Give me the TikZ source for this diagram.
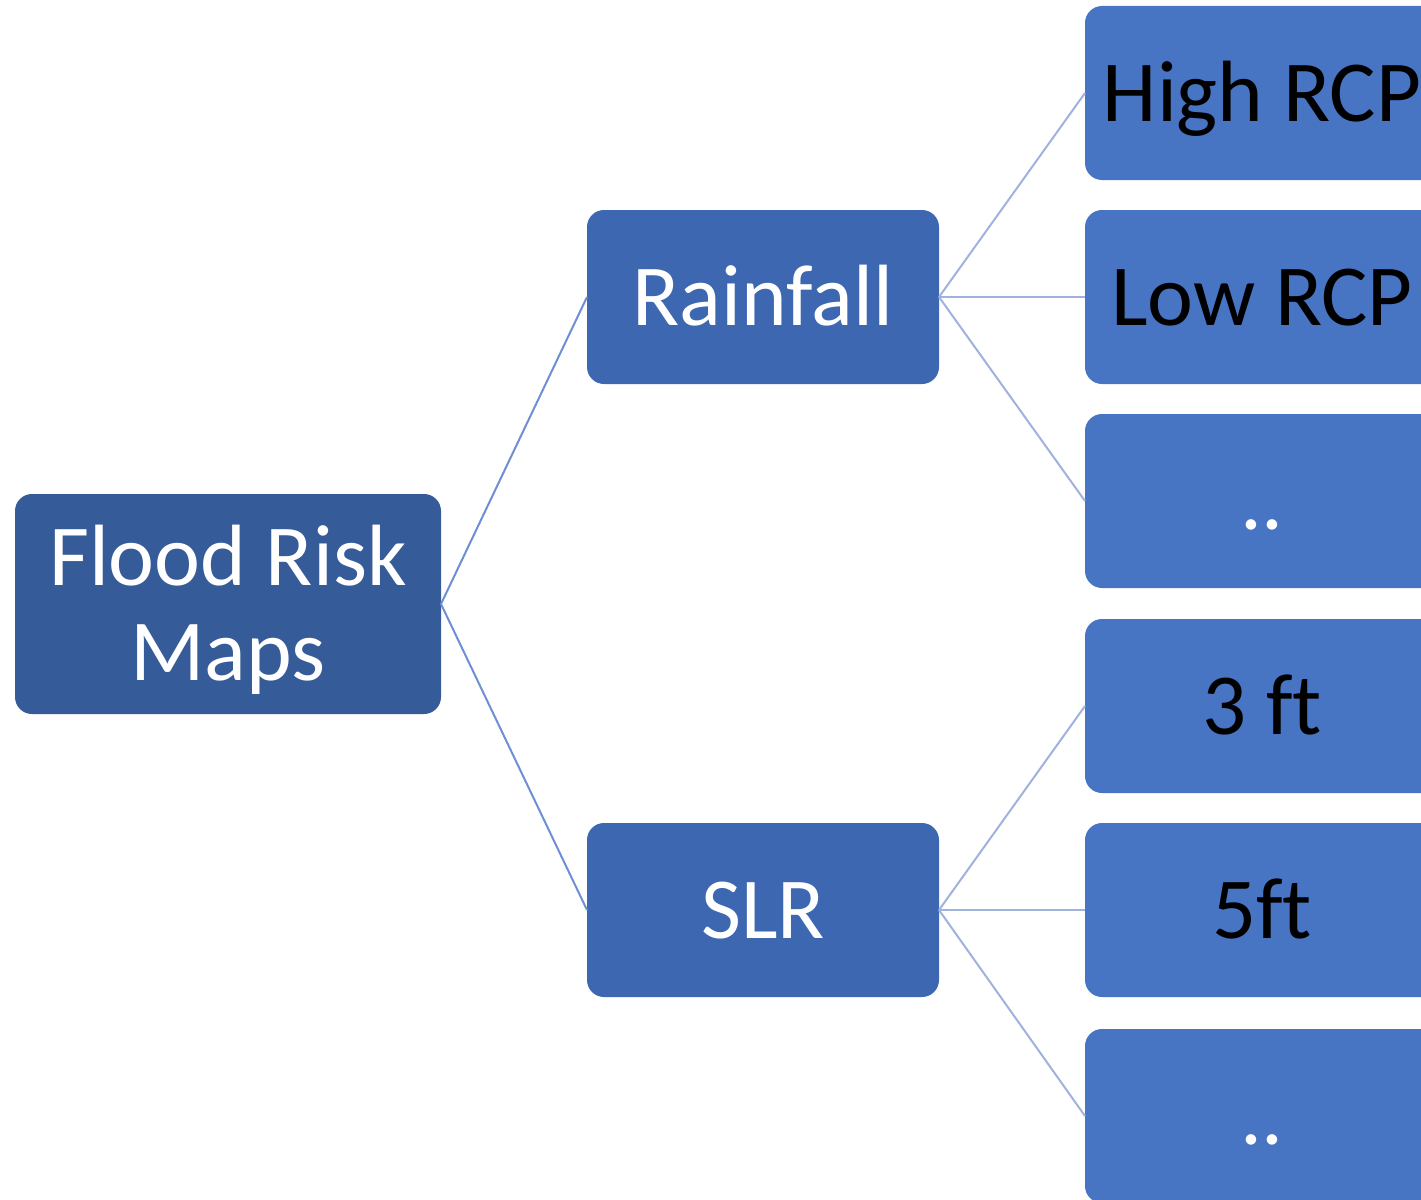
\documentclass[tikz,border=0pt]{standalone}
\usepackage{fontspec}
\setmainfont[Ligatures=NoCommon]{Carlito}
\definecolor{rootfill}{RGB}{54,91,153}
\definecolor{midfill}{RGB}{61,103,177}
\definecolor{leaffill}{RGB}{72,116,196}
\definecolor{rootline}{RGB}{111,143,212}
\definecolor{leafline}{RGB}{160,178,222}
\tikzset{
  bigfont/.style={font=\fontsize{87}{95}\selectfont},
  box/.style={rounded corners=17pt, inner sep=0pt, outer sep=0pt, align=center, bigfont},
  rootbox/.style={box, fill=rootfill, minimum width=426pt, minimum height=220pt},
  roottext/.style={inner sep=0pt, align=center, text=white, bigfont},
  midbox/.style={box, fill=midfill, text=white, minimum width=352pt, minimum height=174pt,
    text height=57pt, text depth=0pt},
  leafbox/.style={box, fill=leaffill, text=black, minimum width=354pt, minimum height=174pt,
    text height=57pt, text depth=0pt},
  rootlink/.style={draw=rootline, line width=2pt},
  leaflink/.style={draw=leafline, line width=2pt}
}
\begin{document}
\begin{tikzpicture}[x=1pt,y=-1pt]
\useasboundingbox (0,0) rectangle (1421,1199);
\clip (0,0) rectangle (1421,1199);
\fill[white] (0,0) rectangle (1421,1199);
\node[rootbox] (root) at (228,604) {};
\node[roottext] (roottxt) at (228,610) {Flood Risk\\Maps};
\node[midbox] (rain) at (763,297) {Rainfall};
\node[midbox] (slr) at (763,910) {SLR};
\node[leafbox] (l1) at (1262,93) {High RCP};
\node[leafbox] (l2) at (1262,297) {Low RCP};
\node[leafbox, text=white] (l3) at (1262,501) {..};
\node[leafbox] (l4) at (1262,706) {3 ft};
\node[leafbox] (l5) at (1262,910) {5ft};
\node[leafbox, text=white] (l6) at (1262,1116) {..};
\draw[rootlink] (root.east) -- (rain.west);
\draw[rootlink] (root.east) -- (slr.west);
\draw[leaflink] (rain.east) -- (l1.west);
\draw[leaflink] (rain.east) -- (l2.west);
\draw[leaflink] (rain.east) -- (l3.west);
\draw[leaflink] (slr.east) -- (l4.west);
\draw[leaflink] (slr.east) -- (l5.west);
\draw[leaflink] (slr.east) -- (l6.west);
\end{tikzpicture}
\end{document}
